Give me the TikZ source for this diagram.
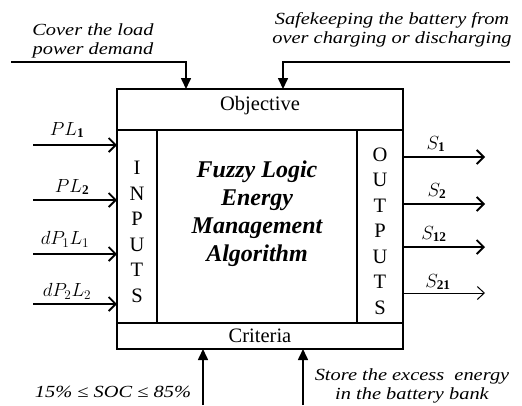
\RequirePackage{fix-cm}
\documentclass[tikz,border=0pt]{standalone}
\usepackage{fontspec}
\setmainfont{Liberation Serif}
\newfontfamily\labfont[FakeStretch=1.2]{Liberation Serif}
\usetikzlibrary{arrows.meta}
\begin{document}
\begin{tikzpicture}[x=1pt,y=-1pt,
  boxpart/.style={draw, line width=1.3pt, inner sep=0pt, outer sep=0pt},
  plain/.style={font=\fontsize{20.5}{25.5}\selectfont, align=center, inner sep=0pt},
  core/.style={font=\bfseries\itshape\fontsize{24}{28}\selectfont, align=center, inner sep=0pt},
  lab/.style={font=\labfont\itshape\fontsize{17}{19}\selectfont, align=center, inner sep=0pt},
  mlab/.style={font=\fontsize{19}{21}\selectfont, inner sep=0pt},
  inarrow/.style={line width=1.8pt, -{Straight Barb[length=7pt,width=14pt,line width=1.8pt]}},
  thinarrow/.style={line width=1pt, -{Straight Barb[length=7pt,width=13pt,line width=1pt]}},
  tbarrow/.style={line width=1.6pt, -{Triangle[length=11pt,width=10pt]}}
]
\useasboundingbox (0,0) rectangle (522,405);

% frame parts
\node[boxpart, minimum width=286pt, minimum height=260pt] (frame) at (260,219) {};
\node[boxpart, minimum width=286pt, minimum height=41pt] (obj) at (260,109.5) {};
\node[plain] (objtxt) at (260,106) {Objective};
\node[boxpart, minimum width=286pt, minimum height=26pt] (crit) at (260,336) {};
\node[plain] (crittxt) at (260,336) {Criteria};
\node[boxpart, minimum width=40pt, minimum height=193pt] (inp) at (137,226.5) {};
\node[boxpart, minimum width=46pt, minimum height=193pt] (out) at (380,226.5) {};
\node[boxpart, minimum width=200pt, minimum height=193pt] (alg) at (257,226.5) {};

\node[plain] (inptxt) at (137,232) {I\\N\\P\\U\\T\\S};
\node[plain] (outtxt) at (380,231) {O\\U\\T\\P\\U\\T\\S};
\node[core] (algtxt) at (257,214) {Fuzzy Logic\\Energy\\Management\\Algorithm};

% top labels and arrows
\node[lab] (lcov) at (93,41) {Cover the load\\power demand};
\node[lab] (lsafe) at (392,30) {Safekeeping the battery from\\over charging or discharging};
\coordinate (t1) at (11,62);
\coordinate (t2) at (510,62);
\draw[tbarrow] (t1) -| ([xshift=69pt]obj.north west);
\draw[tbarrow] (t2) -| ([xshift=166pt]obj.north west);

% bottom labels and arrows
\node[lab] (lsoc) at (113,392) {15\% ≤ SOC ≤ 85\%};
\node[lab] (lstore) at (412,385.5) {Store the excess \ energy\\in the battery bank};
\coordinate (b1) at (203,405);
\coordinate (b2) at (303,405);
\draw[tbarrow] (b1) -- ([xshift=86pt]crit.south west);
\draw[tbarrow] (b2) -- ([xshift=186pt]crit.south west);

% inputs
\coordinate (i1) at (33,145);
\coordinate (i2) at (33,200);
\coordinate (i3) at (33,254);
\coordinate (i4) at (33,304);
\draw[inarrow] (i1) -- (i1 -| inp.west);
\draw[inarrow] (i2) -- (i2 -| inp.west);
\draw[inarrow] (i3) -- (i3 -| inp.west);
\draw[inarrow] (i4) -- (i4 -| inp.west);
\node[mlab] (li1) at (67,130) {$PL_{\mathbf{1}}$};
\node[mlab] (li2) at (72,187) {$PL_{\mathbf{2}}$};
\node[mlab] (li3) at (65,239) {$dP_1L_1$};
\node[mlab] (li4) at (67,291) {$dP_2L_2$};

% outputs
\coordinate (o1) at (485,157);
\coordinate (o2) at (485,204);
\coordinate (o3) at (485,247);
\coordinate (o4) at (485,293);
\draw[inarrow] (o1 -| out.east) -- (o1);
\draw[inarrow] (o2 -| out.east) -- (o2);
\draw[inarrow] (o3 -| out.east) -- (o3);
\draw[thinarrow] (o4 -| out.east) -- (o4);
\node[mlab] (lo1) at (436,144) {$S_{\mathbf{1}}$};
\node[mlab] (lo2) at (437,191) {$S_{\mathbf{2}}$};
\node[mlab] (lo3) at (434,234) {$S_{\mathbf{12}}$};
\node[mlab] (lo4) at (438,282) {$S_{\mathbf{21}}$};
\end{tikzpicture}
\end{document}
